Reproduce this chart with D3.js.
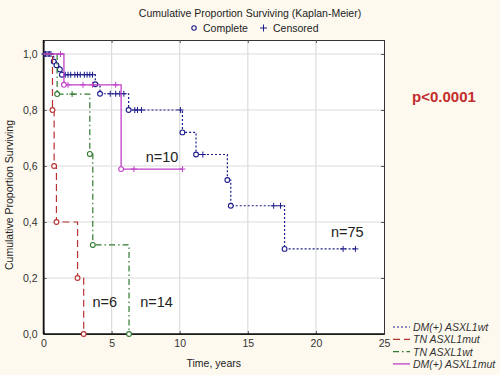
<!DOCTYPE html>
<html>
<head>
<meta charset="utf-8">
<script src="https://cdn.jsdelivr.net/npm/d3@7"></script>
<style>
  body { margin: 0; background: #fdf9ee; }
  text { font-family: "Liberation Sans", Arial, sans-serif; }
</style>
</head>
<body>
<div id="chart"></div>
<script>
// series: event times / survival after event / censored times
const seriesNames = ["DM(+) ASXL1wt", "TN ASXL1mut", "TN ASXL1wt", "DM(+) ASXL1mut"];

const dmWtTimes = [0.75, 0.95, 1.2, 1.35, 3.8, 4.15, 6.25, 10.2, 11.2, 13.5, 13.75, 17.7];
const dmWtSurv = [0.973, 0.96, 0.945, 0.926, 0.892, 0.858, 0.80, 0.72, 0.641, 0.55, 0.458, 0.304];
const dmWtCens = [0.05, 0.15, 0.25, 0.35, 0.45, 0.55, 1.6, 1.8, 2.0, 2.3, 2.5, 2.7, 3.0, 3.2, 3.4, 3.6,
                  4.9, 5.3, 5.6, 5.9, 6.7, 6.9, 7.2, 10.05, 11.7, 16.9, 17.4, 22.0, 22.9];
const dmWtEnd = 22.9;

const tnMutTimes = [0.66, 0.78, 0.95, 2.5, 2.95];
const tnMutSurv = [0.8, 0.6, 0.4, 0.2, 0.0];
const tnMutCens = [];
const tnMutEnd = 2.95;

const tnWtTimes = [1.0, 3.4, 3.62, 6.28];
const tnWtSurv = [0.857, 0.643, 0.318, 0.0];
const tnWtCens = [2.1];
const tnWtEnd = 6.28;

const dmMutTimes = [1.5, 5.7];
const dmMutSurv = [0.89, 0.589];
const dmMutCens = [1.25, 1.8, 2.9, 3.6, 5.3, 6.64, 10.2];
const dmMutEnd = 10.2;

const xTicks = [0, 5, 10, 15, 20, 25];
const yTicks = [0, 0.2, 0.4, 0.6, 0.8, 1.0];

const nLabels = [
  {text: "n=75", t: 22.3, s: 0.345},
  {text: "n=10", t: 8.7, s: 0.615},
  {text: "n=6", t: 4.5, s: 0.095},
  {text: "n=14", t: 8.3, s: 0.095}
];

let w = 500, h = 375;
let margin = {top: 40, right: 116, bottom: 41, left: 43.5};

const svg = d3.select("#chart").append("svg")
  .attr("width", w).attr("height", h);

let x = d3.scaleLinear().domain([0, 25]).range([margin.left, w - margin.right]);
let y = d3.scaleLinear().domain([0, 1.05]).range([h - margin.bottom, margin.top]);

let styles = [
  {color: "#1c1c8a", dash: "2,2", width: 1.2},
  {color: "#b83232", dash: "7,4", width: 1.2},
  {color: "#2f7a2f", dash: "6,3,1.5,3", width: 1.2},
  {color: "#c040c8", dash: null, width: 1.3}
];

let series = [
  {times: dmWtTimes, surv: dmWtSurv, cens: dmWtCens, end: dmWtEnd},
  {times: tnMutTimes, surv: tnMutSurv, cens: tnMutCens, end: tnMutEnd},
  {times: tnWtTimes, surv: tnWtSurv, cens: tnWtCens, end: tnWtEnd},
  {times: dmMutTimes, surv: dmMutSurv, cens: dmMutCens, end: dmMutEnd}
];

// plot area
svg.append("rect")
  .attr("x", x(0)).attr("y", margin.top)
  .attr("width", x(25) - x(0)).attr("height", y(0) - margin.top)
  .attr("fill", "white");

// grid
svg.append("g").selectAll("line")
  .data(xTicks.slice(1, -1)).enter().append("line")
  .attr("x1", d => x(d)).attr("x2", d => x(d))
  .attr("y1", margin.top).attr("y2", y(0))
  .attr("stroke", "#dcdcdc").attr("stroke-width", 1.2);
svg.append("g").selectAll("line")
  .data(yTicks.slice(1)).enter().append("line")
  .attr("x1", x(0)).attr("x2", x(25))
  .attr("y1", d => y(d)).attr("y2", d => y(d))
  .attr("stroke", "#dcdcdc").attr("stroke-width", 1.2);

// axes
let fmt = d => d3.format(".1f")(d).replace(".", ",");
let xAxis = svg.append("g")
  .attr("transform", `translate(0,${y(0)})`)
  .call(d3.axisBottom(x).tickValues(xTicks).tickSize(-3).tickPadding(6).tickFormat(d3.format("d")));
let yAxis = svg.append("g")
  .attr("transform", `translate(${x(0)},0)`)
  .call(d3.axisLeft(y).tickValues(yTicks).tickSize(-3).tickPadding(6).tickFormat(fmt));
svg.append("g")
  .attr("transform", `translate(0,${margin.top})`)
  .call(d3.axisTop(x).tickValues(xTicks).tickSize(-3).tickFormat(""));
svg.append("g")
  .attr("transform", `translate(${x(25)},0)`)
  .call(d3.axisRight(y).tickValues(yTicks).tickSize(-3).tickFormat(""));
svg.selectAll(".domain").attr("stroke", "#333");
svg.selectAll(".tick line").attr("stroke", "#555");
svg.selectAll(".tick text").attr("font-size", "10.5px").attr("fill", "#333")
  .style("font-family", "'Liberation Sans', Arial, sans-serif");
// thicker left/bottom frame
svg.append("line").attr("x1", x(0)).attr("x2", x(25)).attr("y1", y(0)).attr("y2", y(0))
  .attr("stroke", "#111").attr("stroke-width", 1.5);
svg.append("line").attr("x1", x(0)).attr("x2", x(0)).attr("y1", margin.top).attr("y2", y(0))
  .attr("stroke", "#111").attr("stroke-width", 1.5);

// curves
let line = d3.line().curve(d3.curveStepAfter).x(d => x(d[0])).y(d => y(d[1]));
function survAt(s, t) {
  let v = 1;
  s.times.forEach((tt, i) => { if (tt <= t) v = s.surv[i]; });
  return v;
}

series.forEach((s, k) => {
  let pts = [[0, 1]];
  s.times.forEach((t, i) => pts.push([t, s.surv[i]]));
  if (s.end > s.times[s.times.length - 1]) pts.push([s.end, s.surv[s.surv.length - 1]]);
  let st = styles[k];
  let g = svg.append("g");
  g.append("path")
    .attr("d", line(pts))
    .attr("fill", "none")
    .attr("stroke", st.color)
    .attr("stroke-width", st.width)
    .attr("stroke-dasharray", st.dash);
  // censored marks
  g.selectAll(".cens").data(s.cens).enter().append("path")
    .attr("d", d => {
      let cx = x(d), cy = y(survAt(s, d));
      return `M${cx - 3},${cy}H${cx + 3}M${cx},${cy - 3}V${cy + 3}`;
    })
    .attr("stroke", st.color).attr("stroke-width", 1);
  // complete events
  g.selectAll(".ev").data(s.times).enter().append("circle")
    .attr("cx", d => x(d))
    .attr("cy", (d, i) => y(s.surv[i]))
    .attr("r", 2.4)
    .attr("fill", "white")
    .attr("stroke", st.color).attr("stroke-width", 1.1);
});

// n labels
svg.selectAll(".nlab").data(nLabels).enter().append("text")
  .attr("x", d => x(d.t)).attr("y", d => y(d.s))
  .attr("text-anchor", "middle")
  .attr("font-size", "14.5px").attr("fill", "#222")
  .text(d => d.text);

// title + marker legend
svg.append("text").attr("x", 250).attr("y", 17).attr("text-anchor", "middle")
  .attr("font-size", "10.5px").attr("fill", "#222")
  .text("Cumulative Proportion Surviving (Kaplan-Meier)");
svg.append("circle").attr("cx", 194).attr("cy", 28).attr("r", 2.2)
  .attr("fill", "none").attr("stroke", "#1c1c8a").attr("stroke-width", 1.1);
svg.append("text").attr("x", 203).attr("y", 31.5).attr("font-size", "10.5px").attr("fill", "#222").text("Complete");
svg.append("path").attr("d", "M260,28H267M263.5,24.5V31.5").attr("stroke", "#1c1c8a").attr("stroke-width", 1);
svg.append("text").attr("x", 273).attr("y", 31.5).attr("font-size", "10.5px").attr("fill", "#222").text("Censored");

// axis titles
svg.append("text").attr("x", x(12.5)).attr("y", 367).attr("text-anchor", "middle")
  .attr("font-size", "10.5px").attr("fill", "#222").text("Time, years");
svg.append("text").attr("transform", `translate(13,${(margin.top + y(0)) / 2 + 8}) rotate(-90)`)
  .attr("text-anchor", "middle").attr("font-size", "10.5px").attr("fill", "#222")
  .text("Cumulative Proportion Surviving");

// p value
svg.append("text").attr("x", 444).attr("y", 102).attr("text-anchor", "middle")
  .attr("font-size", "15px").attr("font-weight", "bold").attr("fill", "#c22d2d")
  .text("p<0.0001");

// series legend
let legend = svg.append("g").attr("transform", "translate(393,327)");
seriesNames.forEach((name, i) => {
  let st = styles[i];
  legend.append("line")
    .attr("x1", 0).attr("x2", 17).attr("y1", i * 12.3).attr("y2", i * 12.3)
    .attr("stroke", st.color).attr("stroke-width", st.width)
    .attr("stroke-dasharray", st.dash);
  legend.append("text")
    .attr("x", 20).attr("y", i * 12.3 + 4)
    .attr("font-size", "10.5px").attr("font-style", "italic").attr("fill", "#333")
    .text(name);
});
</script>
</body>
</html>
